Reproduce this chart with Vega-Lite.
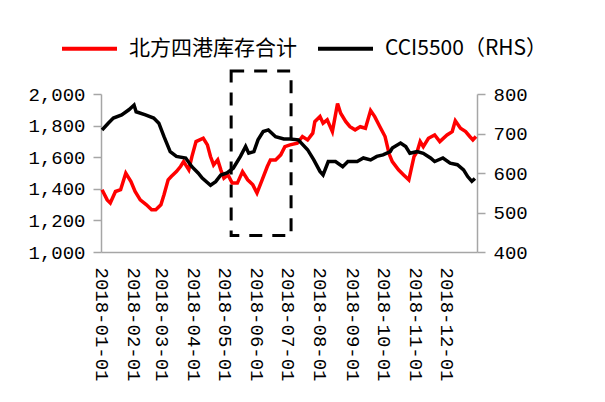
{
  "$schema": "https://vega.github.io/schema/vega-lite/v6.json",
  "width": 376,
  "height": 158,
  "autosize": {"type": "none"},
  "padding": {"left": 101, "top": 94, "right": 128, "bottom": 150},
  "background": "white",
  "config": {
    "view": {"stroke": null},
    "axis": {
      "domainColor": "#a6a6a6",
      "domainWidth": 1.5,
      "tickColor": "#a6a6a6",
      "tickWidth": 1.5,
      "tickSize": 8,
      "labelFont": "Liberation Mono",
      "labelFontSize": 19,
      "labelColor": "#000000",
      "grid": false,
      "title": null
    },
    "legend": {
      "orient": "none",
      "direction": "horizontal",
      "legendX": -41,
      "legendY": -75,
      "title": null,
      "symbolType": "stroke",
      "symbolSize": 3025,
      "symbolStrokeWidth": 4,
      "labelFont": "Noto Sans CJK SC",
      "labelFontSize": 21,
      "labelColor": "#000000",
      "labelOffset": 10,
      "labelLimit": 400,
      "columnPadding": 13,
      "padding": 0
    }
  },
  "datasets": {
    "box": [{"d": "2018-05-07", "e": "2018-07-04", "lo": 1105, "hi": 2145}],
    "inv": [
      {"d": "2018-01-02", "v": 1394}, {"d": "2018-01-07", "v": 1330}, {"d": "2018-01-10", "v": 1310},
      {"d": "2018-01-15", "v": 1383}, {"d": "2018-01-20", "v": 1394}, {"d": "2018-01-23", "v": 1457},
      {"d": "2018-01-25", "v": 1499}, {"d": "2018-01-30", "v": 1446}, {"d": "2018-02-03", "v": 1383},
      {"d": "2018-02-08", "v": 1330}, {"d": "2018-02-14", "v": 1299}, {"d": "2018-02-19", "v": 1267},
      {"d": "2018-02-23", "v": 1267}, {"d": "2018-02-28", "v": 1299}, {"d": "2018-03-03", "v": 1362},
      {"d": "2018-03-07", "v": 1457}, {"d": "2018-03-10", "v": 1478}, {"d": "2018-03-15", "v": 1509},
      {"d": "2018-03-19", "v": 1541}, {"d": "2018-03-22", "v": 1572}, {"d": "2018-03-27", "v": 1520},
      {"d": "2018-03-30", "v": 1604}, {"d": "2018-04-03", "v": 1699}, {"d": "2018-04-10", "v": 1720},
      {"d": "2018-04-14", "v": 1678}, {"d": "2018-04-17", "v": 1604}, {"d": "2018-04-20", "v": 1551},
      {"d": "2018-04-24", "v": 1583}, {"d": "2018-04-27", "v": 1520}, {"d": "2018-04-30", "v": 1467},
      {"d": "2018-05-04", "v": 1488}, {"d": "2018-05-08", "v": 1436}, {"d": "2018-05-13", "v": 1436},
      {"d": "2018-05-18", "v": 1509}, {"d": "2018-05-23", "v": 1457}, {"d": "2018-05-28", "v": 1425},
      {"d": "2018-06-01", "v": 1373}, {"d": "2018-06-06", "v": 1457}, {"d": "2018-06-11", "v": 1541},
      {"d": "2018-06-14", "v": 1583}, {"d": "2018-06-19", "v": 1583}, {"d": "2018-06-24", "v": 1615},
      {"d": "2018-06-28", "v": 1667}, {"d": "2018-07-03", "v": 1678}, {"d": "2018-07-10", "v": 1688},
      {"d": "2018-07-15", "v": 1731}, {"d": "2018-07-20", "v": 1709}, {"d": "2018-07-25", "v": 1752},
      {"d": "2018-07-27", "v": 1825}, {"d": "2018-08-01", "v": 1857}, {"d": "2018-08-04", "v": 1815},
      {"d": "2018-08-08", "v": 1836}, {"d": "2018-08-13", "v": 1762}, {"d": "2018-08-18", "v": 1940},
      {"d": "2018-08-21", "v": 1878}, {"d": "2018-08-26", "v": 1825}, {"d": "2018-08-30", "v": 1793},
      {"d": "2018-09-04", "v": 1773}, {"d": "2018-09-09", "v": 1793}, {"d": "2018-09-14", "v": 1783},
      {"d": "2018-09-19", "v": 1895}, {"d": "2018-09-23", "v": 1857}, {"d": "2018-09-28", "v": 1793},
      {"d": "2018-10-03", "v": 1731}, {"d": "2018-10-07", "v": 1620}, {"d": "2018-10-10", "v": 1572},
      {"d": "2018-10-16", "v": 1520}, {"d": "2018-10-21", "v": 1488}, {"d": "2018-10-26", "v": 1457},
      {"d": "2018-10-31", "v": 1604}, {"d": "2018-11-03", "v": 1635}, {"d": "2018-11-06", "v": 1699},
      {"d": "2018-11-09", "v": 1667}, {"d": "2018-11-14", "v": 1720}, {"d": "2018-11-20", "v": 1741},
      {"d": "2018-11-25", "v": 1699}, {"d": "2018-12-02", "v": 1741}, {"d": "2018-12-07", "v": 1762},
      {"d": "2018-12-10", "v": 1830}, {"d": "2018-12-15", "v": 1783}, {"d": "2018-12-20", "v": 1762},
      {"d": "2018-12-24", "v": 1731}, {"d": "2018-12-27", "v": 1709}, {"d": "2018-12-30", "v": 1731}
    ],
    "cci": [
      {"d": "2018-01-02", "v": 709}, {"d": "2018-01-08", "v": 726}, {"d": "2018-01-13", "v": 739},
      {"d": "2018-01-21", "v": 747}, {"d": "2018-01-28", "v": 760}, {"d": "2018-02-02", "v": 772},
      {"d": "2018-02-04", "v": 755}, {"d": "2018-02-13", "v": 747}, {"d": "2018-02-21", "v": 739},
      {"d": "2018-02-26", "v": 726}, {"d": "2018-03-03", "v": 692}, {"d": "2018-03-09", "v": 654},
      {"d": "2018-03-15", "v": 642}, {"d": "2018-03-24", "v": 638}, {"d": "2018-03-30", "v": 616},
      {"d": "2018-04-05", "v": 600}, {"d": "2018-04-09", "v": 587}, {"d": "2018-04-17", "v": 569},
      {"d": "2018-04-22", "v": 578}, {"d": "2018-04-27", "v": 595}, {"d": "2018-05-03", "v": 600},
      {"d": "2018-05-09", "v": 612}, {"d": "2018-05-16", "v": 642}, {"d": "2018-05-21", "v": 667},
      {"d": "2018-05-24", "v": 650}, {"d": "2018-05-29", "v": 654}, {"d": "2018-06-02", "v": 684},
      {"d": "2018-06-07", "v": 705}, {"d": "2018-06-12", "v": 709}, {"d": "2018-06-19", "v": 692},
      {"d": "2018-06-27", "v": 686}, {"d": "2018-07-03", "v": 686}, {"d": "2018-07-11", "v": 684},
      {"d": "2018-07-20", "v": 659}, {"d": "2018-07-26", "v": 633}, {"d": "2018-08-01", "v": 604},
      {"d": "2018-08-04", "v": 595}, {"d": "2018-08-09", "v": 629}, {"d": "2018-08-16", "v": 629},
      {"d": "2018-08-23", "v": 616}, {"d": "2018-08-28", "v": 629}, {"d": "2018-09-06", "v": 629},
      {"d": "2018-09-12", "v": 638}, {"d": "2018-09-19", "v": 633}, {"d": "2018-09-25", "v": 642},
      {"d": "2018-10-01", "v": 646}, {"d": "2018-10-08", "v": 654}, {"d": "2018-10-10", "v": 663},
      {"d": "2018-10-18", "v": 676}, {"d": "2018-10-23", "v": 667}, {"d": "2018-10-27", "v": 650},
      {"d": "2018-11-03", "v": 654}, {"d": "2018-11-09", "v": 650}, {"d": "2018-11-16", "v": 638},
      {"d": "2018-11-20", "v": 629}, {"d": "2018-11-28", "v": 638}, {"d": "2018-12-05", "v": 625},
      {"d": "2018-12-12", "v": 621}, {"d": "2018-12-18", "v": 608}, {"d": "2018-12-22", "v": 591},
      {"d": "2018-12-26", "v": 579}, {"d": "2018-12-29", "v": 586}
    ]
  },
  "encoding": {
    "x": {
      "field": "d",
      "type": "temporal",
      "scale": {
        "type": "utc",
        "domain": [
          {"year": 2018, "month": 1, "date": 1, "utc": true},
          {"year": 2018, "month": 12, "date": 31, "utc": true}
        ]
      },
      "axis": {
        "title": null,
        "ticks": false,
        "labelAngle": 90,
        "labelPadding": 15,
        "format": "%Y-%m-%d",
        "labelOverlap": false,
        "labelFlush": false,
        "values": [
          {"year": 2018, "month": 1, "date": 1, "utc": true},
          {"year": 2018, "month": 2, "date": 1, "utc": true},
          {"year": 2018, "month": 3, "date": 1, "utc": true},
          {"year": 2018, "month": 4, "date": 1, "utc": true},
          {"year": 2018, "month": 5, "date": 1, "utc": true},
          {"year": 2018, "month": 6, "date": 1, "utc": true},
          {"year": 2018, "month": 7, "date": 1, "utc": true},
          {"year": 2018, "month": 8, "date": 1, "utc": true},
          {"year": 2018, "month": 9, "date": 1, "utc": true},
          {"year": 2018, "month": 10, "date": 1, "utc": true},
          {"year": 2018, "month": 11, "date": 1, "utc": true},
          {"year": 2018, "month": 12, "date": 1, "utc": true}
        ]
      }
    }
  },
  "layer": [
    {
      "layer": [
        {
          "data": {"name": "box"},
          "mark": {"type": "rect", "fill": "transparent", "stroke": "#000000", "strokeWidth": 3, "strokeDash": [13, 10]},
          "encoding": {
            "x2": {"field": "e"},
            "y": {
              "field": "lo",
              "type": "quantitative",
              "scale": {"domain": [1000, 2000], "nice": false, "zero": false},
              "axis": {"title": null, "orient": "left", "values": [1000, 1200, 1400, 1600, 1800, 2000], "labelExpr": "format(datum.value, ',')", "labelPadding": 8}
            },
            "y2": {"field": "hi"}
          }
        },
        {
          "data": {"name": "inv"},
          "mark": {"type": "line", "strokeWidth": 3.5},
          "encoding": {
            "y": {
              "field": "v",
              "type": "quantitative",
              "scale": {"domain": [1000, 2000], "nice": false, "zero": false},
              "axis": {"title": null, "orient": "left", "values": [1000, 1200, 1400, 1600, 1800, 2000], "labelExpr": "format(datum.value, ',')", "labelPadding": 8}
            },
            "color": {
              "datum": "北方四港库存合计",
              "type": "nominal",
              "scale": {"domain": ["北方四港库存合计", "CCI5500（RHS）"], "range": ["#ff0000", "#000000"]}
            }
          }
        }
      ]
    },
    {
      "data": {"name": "cci"},
      "mark": {"type": "line", "strokeWidth": 3.5},
      "encoding": {
        "y": {
          "field": "v",
          "type": "quantitative",
          "scale": {"domain": [400, 800], "nice": false, "zero": false},
          "axis": {"title": null, "orient": "right", "values": [400, 500, 600, 700, 800], "labelPadding": 8}
        },
        "color": {"datum": "CCI5500（RHS）", "type": "nominal"}
      }
    }
  ],
  "resolve": {"scale": {"y": "independent"}}
}
